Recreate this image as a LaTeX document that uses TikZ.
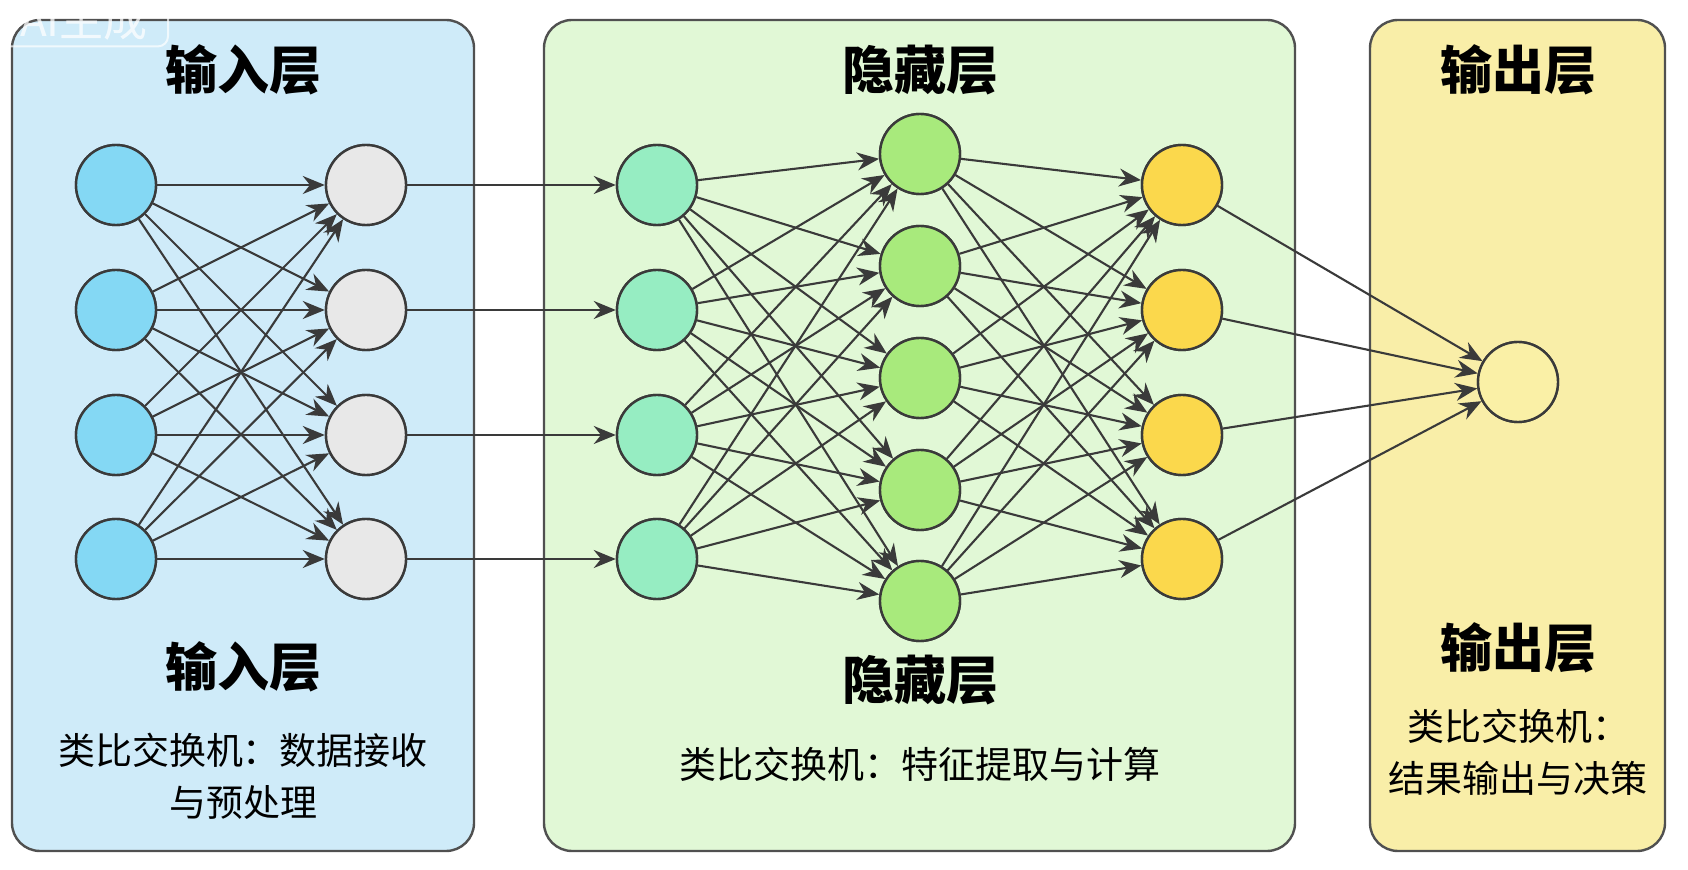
\documentclass[tikz,border=0pt]{standalone}
\usepackage{fontspec}
\setmainfont{Noto Sans CJK SC}
\usetikzlibrary{arrows.meta}
\definecolor{boxline}{HTML}{505050}
\definecolor{edgecol}{HTML}{3A3A3A}
\definecolor{bgblue}{HTML}{CFEBF9}
\definecolor{bggreen}{HTML}{E1F8D6}
\definecolor{bgyellow}{HTML}{F9EEA8}
\definecolor{nblue}{HTML}{84D8F4}
\definecolor{ngray}{HTML}{E8E8E8}
\definecolor{nmint}{HTML}{96EDC2}
\definecolor{ngreen}{HTML}{A8EA7C}
\definecolor{nyellow}{HTML}{FBD84C}
\definecolor{nout}{HTML}{FAF0A6}
\tikzset{
  panel/.style={draw=boxline, line width=1.2pt, rounded corners=14pt},
  neuron/.style={circle, draw=edgecol, line width=1.2pt, minimum size=40pt, inner sep=0pt},
  conn/.style={draw=edgecol, line width=1.05pt, -{Stealth[length=11pt,width=9pt]}},
  titletext/.style={font=\fontsize{26}{30}\selectfont\bfseries},
  subtext/.style={font=\fontsize{18.5}{26}\selectfont, align=center},
}
\begin{document}
\begin{tikzpicture}[x=0.5pt,y=-0.5pt]
\useasboundingbox (0,0) rectangle (1688,870);
\fill[white] (0,0) rectangle (1688,870);
% panels
\draw[panel, fill=bgblue] (12,20) rectangle (474,851);
\draw[panel, fill=bggreen] (544,20) rectangle (1295,851);
\draw[panel, fill=bgyellow] (1370,20) rectangle (1665,851);
% watermark
\node[draw=white, draw opacity=0.7, line width=1pt, rounded corners=5pt, text=white, text opacity=0.75, font=\fontsize{22}{24}\selectfont, inner sep=3pt, minimum width=84pt, minimum height=24pt] (wm) at (84,20) {AI生成};
% neurons
\foreach \i/\y in {1/185,2/310,3/435,4/559} {
  \node[neuron, fill=nblue] (a\i) at (116,\y) {};
  \node[neuron, fill=ngray] (b\i) at (366,\y) {};
  \node[neuron, fill=nmint] (c\i) at (657,\y) {};
  \node[neuron, fill=nyellow] (e\i) at (1182,\y) {};
}
\foreach \i/\y in {1/154,2/266,3/378,4/490,5/601} {
  \node[neuron, fill=ngreen] (d\i) at (920,\y) {};
}
\node[neuron, fill=nout] (o) at (1518,382) {};
% connections
\foreach \i in {1,...,4} {
  \foreach \j in {1,...,4} { \draw[conn] (a\i) -- (b\j); }
  \draw[conn] (b\i) -- (c\i);
  \foreach \j in {1,...,5} { \draw[conn] (c\i) -- (d\j); }
  \draw[conn] (e\i) -- (o);
}
\foreach \i in {1,...,5} {
  \foreach \j in {1,...,4} { \draw[conn] (d\i) -- (e\j); }
}
% redraw neurons on top of lines
\foreach \i/\y in {1/185,2/310,3/435,4/559} {
  \node[neuron, fill=nblue] at (116,\y) {};
  \node[neuron, fill=ngray] at (366,\y) {};
  \node[neuron, fill=nmint] at (657,\y) {};
  \node[neuron, fill=nyellow] at (1182,\y) {};
}
\foreach \i/\y in {1/154,2/266,3/378,4/490,5/601} {
  \node[neuron, fill=ngreen] at (920,\y) {};
}
\node[neuron, fill=nout] at (1518,382) {};
% texts
\node[titletext] (t1) at (243,70) {输入层};
\node[titletext] (t2) at (920,70) {隐藏层};
\node[titletext] (t3) at (1518,70) {输出层};
\node[titletext] (b1t) at (243,667) {输入层};
\node[titletext] (b2t) at (920,680) {隐藏层};
\node[titletext] (b3t) at (1518,648) {输出层};
\node[subtext] (s1) at (243,776) {类比交换机：数据接收\\与预处理};
\node[subtext] (s2) at (920,764) {类比交换机：特征提取与计算};
\node[subtext] (s3) at (1518,752) {类比交换机：\\结果输出与决策};
\end{tikzpicture}
\end{document}
